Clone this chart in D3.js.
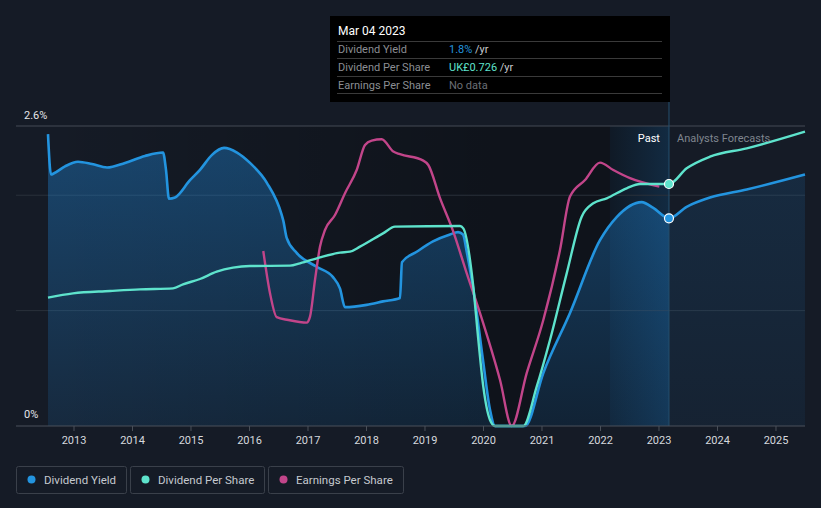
<!DOCTYPE html>
<html>
<head>
<meta charset="utf-8">
<script src="https://cdn.jsdelivr.net/npm/d3@7"></script>
<style>
  html, body { margin: 0; padding: 0; background: #151b26; }
  svg { display: block; font-family: Roboto, "Noto Sans", sans-serif; }
</style>
</head>
<body>
<svg id="chart" width="821" height="508"></svg>
<script>
// ---- Data (decimal years) ----
const yieldYears = [2012.564, 2012.615, 2012.667, 2012.855, 2013.077, 2013.316, 2013.573, 2013.880, 2014.222, 2014.530, 2014.581, 2014.632, 2014.735, 2014.991, 2015.162, 2015.368, 2015.573, 2015.795, 2016.017, 2016.303, 2016.559, 2016.586, 2016.644, 2016.815, 2017.157, 2017.436, 2017.556, 2017.641, 2018.012, 2018.291, 2018.581, 2018.615, 2018.867, 2019.145, 2019.436, 2019.573, 2019.658, 2019.726, 2019.863, 2020.000, 2020.120, 2020.205, 2020.718, 2021.031, 2021.487, 2022.000, 2022.285, 2022.713, 2022.911, 2023.179, 2023.482, 2023.880, 2024.508, 2025.504];
const yieldValues = [2.53, 2.18, 2.19, 2.25, 2.29, 2.27, 2.24, 2.28, 2.34, 2.37, 2.22, 1.97, 1.98, 2.13, 2.22, 2.35, 2.41, 2.37, 2.28, 2.11, 1.83, 1.78, 1.63, 1.50, 1.38, 1.29, 1.19, 1.03, 1.05, 1.08, 1.11, 1.42, 1.51, 1.60, 1.66, 1.68, 1.66, 1.50, 1.09, 0.57, 0.14, 0, 0, 0.46, 0.98, 1.61, 1.81, 1.94, 1.89, 1.80, 1.90, 1.98, 2.05, 2.18];

const dpsYears = [2012.564, 2012.991, 2013.624, 2014.137, 2014.701, 2014.872, 2015.162, 2015.448, 2015.726, 2016.017, 2016.701, 2016.872, 2017.214, 2017.556, 2017.726, 2017.897, 2018.291, 2018.496, 2019.607, 2019.663, 2019.834, 2019.915, 2020.005, 2020.120, 2020.205, 2020.689, 2020.918, 2021.145, 2021.431, 2021.687, 2021.885, 2022.115, 2022.456, 2022.684, 2023.179, 2023.482, 2023.880, 2024.508, 2025.504];
const dpsValues = [0.385, 0.398, 0.405, 0.410, 0.413, 0.425, 0.441, 0.463, 0.475, 0.480, 0.481, 0.488, 0.506, 0.520, 0.523, 0.538, 0.578, 0.598, 0.600, 0.593, 0.418, 0.268, 0.118, 0.018, 0, 0, 0.118, 0.258, 0.458, 0.628, 0.668, 0.683, 0.713, 0.726, 0.726, 0.773, 0.808, 0.833, 0.883];

const epsYears = [2016.244, 2016.359, 2016.474, 2016.672, 2016.986, 2017.043, 2017.128, 2017.214, 2017.299, 2017.470, 2017.641, 2017.841, 2017.983, 2018.097, 2018.268, 2018.467, 2018.581, 2018.979, 2019.065, 2019.265, 2019.492, 2019.721, 2019.949, 2020.291, 2020.491, 2020.747, 2021.031, 2021.316, 2021.487, 2021.744, 2022.000, 2022.227, 2022.513, 2023.014];
const epsValues = [0.875, 0.664, 0.544, 0.530, 0.517, 0.547, 0.730, 0.897, 0.980, 1.055, 1.164, 1.280, 1.405, 1.427, 1.434, 1.372, 1.359, 1.327, 1.305, 1.139, 0.972, 0.764, 0.564, 0.230, 0, 0.264, 0.530, 0.880, 1.147, 1.230, 1.317, 1.280, 1.239, 1.197];

const tickYears = [2013, 2014, 2015, 2016, 2017, 2018, 2019, 2020, 2021, 2022, 2023, 2024, 2025];
const yLabels = ["2.6%", "0%"];
const markerYear = 2023.179;
const pastStartYear = 2022.17;
const tooltipTitle = "Mar 04 2023";
const tooltipRows = [
  { label: "Dividend Yield", value: "1.8%", unit: " /yr", color: "#2394df" },
  { label: "Dividend Per Share", value: "UK£0.726", unit: " /yr", color: "#5ee3cc" },
  { label: "Earnings Per Share", value: "No data", unit: "", color: "#6b6f76" }
];
const legendItems = [
  { label: "Dividend Yield", color: "#2394df" },
  { label: "Dividend Per Share", color: "#5ee3cc" },
  { label: "Earnings Per Share", color: "#c2458a" }
];

const yieldData = yieldYears.map((t, i) => ({ t, v: yieldValues[i] }));
const dpsData = dpsYears.map((t, i) => ({ t, v: dpsValues[i] }));
const epsData = epsYears.map((t, i) => ({ t, v: epsValues[i] }));

// ---- Scales ----
const x = d3.scaleLinear().domain([2012.5641, 2025.5043]).range([48, 805]);
const yY = d3.scaleLinear().domain([0, 2.6]).range([426, 126]);
const yD = d3.scaleLinear().domain([0, 0.9]).range([426, 126]);
const yE = d3.scaleLinear().domain([0, 1.5]).range([426, 126]);

const svg = d3.select("#chart");
const defs = svg.append("defs");

svg.append("rect").attr("width", 821).attr("height", 508).attr("fill", "#151b26");

// darkening gradient over past region
const dg = defs.append("linearGradient").attr("id", "darkG")
  .attr("gradientUnits", "userSpaceOnUse").attr("x1", x.range()[0]).attr("x2", 500).attr("y1", 0).attr("y2", 0);
dg.append("stop").attr("offset", 0).attr("stop-color", "#000").attr("stop-opacity", 0.0);
dg.append("stop").attr("offset", 1).attr("stop-color", "#000").attr("stop-opacity", 0.3);
svg.append("rect").attr("x", x.range()[0]).attr("y", 126).attr("width", x(markerYear) - x.range()[0]).attr("height", 300).attr("fill", "url(#darkG)");

// past highlight band
const bg = defs.append("linearGradient").attr("id", "bandG")
  .attr("gradientUnits", "userSpaceOnUse").attr("x1", x(pastStartYear)).attr("x2", x(markerYear)).attr("y1", 0).attr("y2", 0);
bg.append("stop").attr("offset", 0).attr("stop-color", "#2196f3").attr("stop-opacity", 0.05);
bg.append("stop").attr("offset", 1).attr("stop-color", "#2196f3").attr("stop-opacity", 0.18);
svg.append("rect").attr("x", x(pastStartYear)).attr("y", 126).attr("width", x(markerYear) - x(pastStartYear)).attr("height", 300).attr("fill", "url(#bandG)");

// gridlines
[1, 2].forEach(v => {
  svg.append("line").attr("x1", 16).attr("x2", 805).attr("y1", yY(v)).attr("y2", yY(v))
    .attr("stroke", "#2a313b").attr("stroke-width", 1);
});
svg.append("line").attr("x1", 16).attr("x2", 805).attr("y1", yY(2.6)).attr("y2", yY(2.6))
  .attr("stroke", "#454b55").attr("stroke-width", 1);

// area under yield
const ag = defs.append("linearGradient").attr("id", "areaG")
  .attr("gradientUnits", "userSpaceOnUse").attr("x1", 0).attr("x2", 0).attr("y1", 126).attr("y2", 426);
ag.append("stop").attr("offset", 0).attr("stop-color", "#2196f3").attr("stop-opacity", 0.36);
ag.append("stop").attr("offset", 1).attr("stop-color", "#2196f3").attr("stop-opacity", 0.12);
const ag2 = defs.append("linearGradient").attr("id", "areaG2")
  .attr("gradientUnits", "userSpaceOnUse").attr("x1", 0).attr("x2", 0).attr("y1", 126).attr("y2", 426);
ag2.append("stop").attr("offset", 0).attr("stop-color", "#2196f3").attr("stop-opacity", 0.14);
ag2.append("stop").attr("offset", 1).attr("stop-color", "#2196f3").attr("stop-opacity", 0.06);

const curve = d3.curveMonotoneX;
const area = d3.area().x(d => x(d.t)).y0(426).y1(d => yY(d.v)).curve(curve);
const pastYield = yieldData.filter(d => d.t <= markerYear + 1e-6);
const futYield = yieldData.filter(d => d.t >= markerYear - 1e-6);
svg.append("path").datum(pastYield).attr("d", area).attr("fill", "url(#areaG)");
svg.append("path").datum(futYield).attr("d", area).attr("fill", "url(#areaG2)");

// marker vertical line
svg.append("line").attr("x1", x(markerYear)).attr("x2", x(markerYear)).attr("y1", 100).attr("y2", 426)
  .attr("stroke", "#25506f").attr("stroke-width", 1);

// lines
const lineY = d3.line().x(d => x(d.t)).y(d => yY(d.v)).curve(curve);
const lineD = d3.line().x(d => x(d.t)).y(d => yD(d.v)).curve(curve);
const lineE = d3.line().x(d => x(d.t)).y(d => yE(d.v)).curve(curve);
svg.append("path").datum(yieldData).attr("d", lineY).attr("fill", "none").attr("stroke", "#2394df").attr("stroke-width", 2.6);
svg.append("path").datum(epsData).attr("d", lineE).attr("fill", "none").attr("stroke", "#c2458a").attr("stroke-width", 2.4);
svg.append("path").datum(dpsData).attr("d", lineD).attr("fill", "none").attr("stroke", "#5ee3cc").attr("stroke-width", 2.4);

// axis
svg.append("line").attr("x1", 16).attr("x2", 805).attr("y1", 426).attr("y2", 426).attr("stroke", "#4a505a").attr("stroke-width", 1);
const axis = svg.append("g").attr("transform", "translate(0,426)")
  .call(d3.axisBottom(x).tickValues(tickYears).tickFormat(d3.format("d")).tickSize(5).tickPadding(5));
axis.select(".domain").remove();
axis.selectAll(".tick line").attr("stroke", "#4a505a");
axis.selectAll(".tick text").attr("fill", "#d6d9de").attr("font-size", 11).attr("font-family", "Roboto, sans-serif");

// y labels
svg.append("text").attr("x", 24).attr("y", 119).attr("fill", "#e4e6ea").attr("font-size", 11).text(yLabels[0]);
svg.append("text").attr("x", 24).attr("y", 418).attr("fill", "#e4e6ea").attr("font-size", 11).text(yLabels[1]);

// past / forecast labels
svg.append("text").attr("x", x(markerYear) - 9).attr("y", 142).attr("text-anchor", "end").attr("fill", "#ffffff").attr("font-size", 11).text("Past");
svg.append("text").attr("x", x(markerYear) + 8).attr("y", 142).attr("fill", "#7f858e").attr("font-size", 11).text("Analysts Forecasts");

// markers
const mY = yieldData.find(d => Math.abs(d.t - markerYear) < 1e-6);
const mD = dpsData.find(d => Math.abs(d.t - markerYear) < 1e-6);
svg.append("circle").attr("cx", x(mD.t)).attr("cy", yD(mD.v)).attr("r", 4.5).attr("fill", "#5ee3cc").attr("stroke", "#ffffff").attr("stroke-width", 1.2);
svg.append("circle").attr("cx", x(mY.t)).attr("cy", yY(mY.v)).attr("r", 4.5).attr("fill", "#2394df").attr("stroke", "#ffffff").attr("stroke-width", 1.2);

// tooltip
const tt = svg.append("g");
tt.append("rect").attr("x", 330).attr("y", 16).attr("width", 340).attr("height", 86).attr("fill", "#000");
tt.append("text").attr("x", 338).attr("y", 35).attr("fill", "#ffffff").attr("font-size", 12).text(tooltipTitle);
[41.5, 58.5, 76.5, 93.5].forEach(yy => {
  tt.append("line").attr("x1", 337).attr("x2", 662).attr("y1", yy).attr("y2", yy).attr("stroke", "#3a3a3a").attr("stroke-width", 1);
});
tooltipRows.forEach((r, i) => {
  const by = 53 + i * 18;
  tt.append("text").attr("x", 338).attr("y", by).attr("fill", "#8b8e93").attr("font-size", 11).text(r.label);
  const t = tt.append("text").attr("x", 449).attr("y", by).attr("font-size", 11);
  t.append("tspan").attr("fill", r.color).text(r.value);
  if (r.unit) t.append("tspan").attr("fill", "#c9cbcf").text(r.unit);
});

// legend
const boxes = [[16, 110], [130, 134], [268, 135]];
legendItems.forEach((it, i) => {
  const [bx, bw] = boxes[i];
  const g = svg.append("g");
  g.append("rect").attr("x", bx + 0.5).attr("y", 466.5).attr("width", bw).attr("height", 27).attr("rx", 2)
    .attr("fill", "none").attr("stroke", "#3a404a");
  g.append("circle").attr("cx", bx + 15.5).attr("cy", 479.5).attr("r", 4).attr("fill", it.color);
  g.append("text").attr("x", bx + 28).attr("y", 484).attr("fill", "#c5c9cf").attr("font-size", 11.5).text(it.label);
});
</script>
</body>
</html>
